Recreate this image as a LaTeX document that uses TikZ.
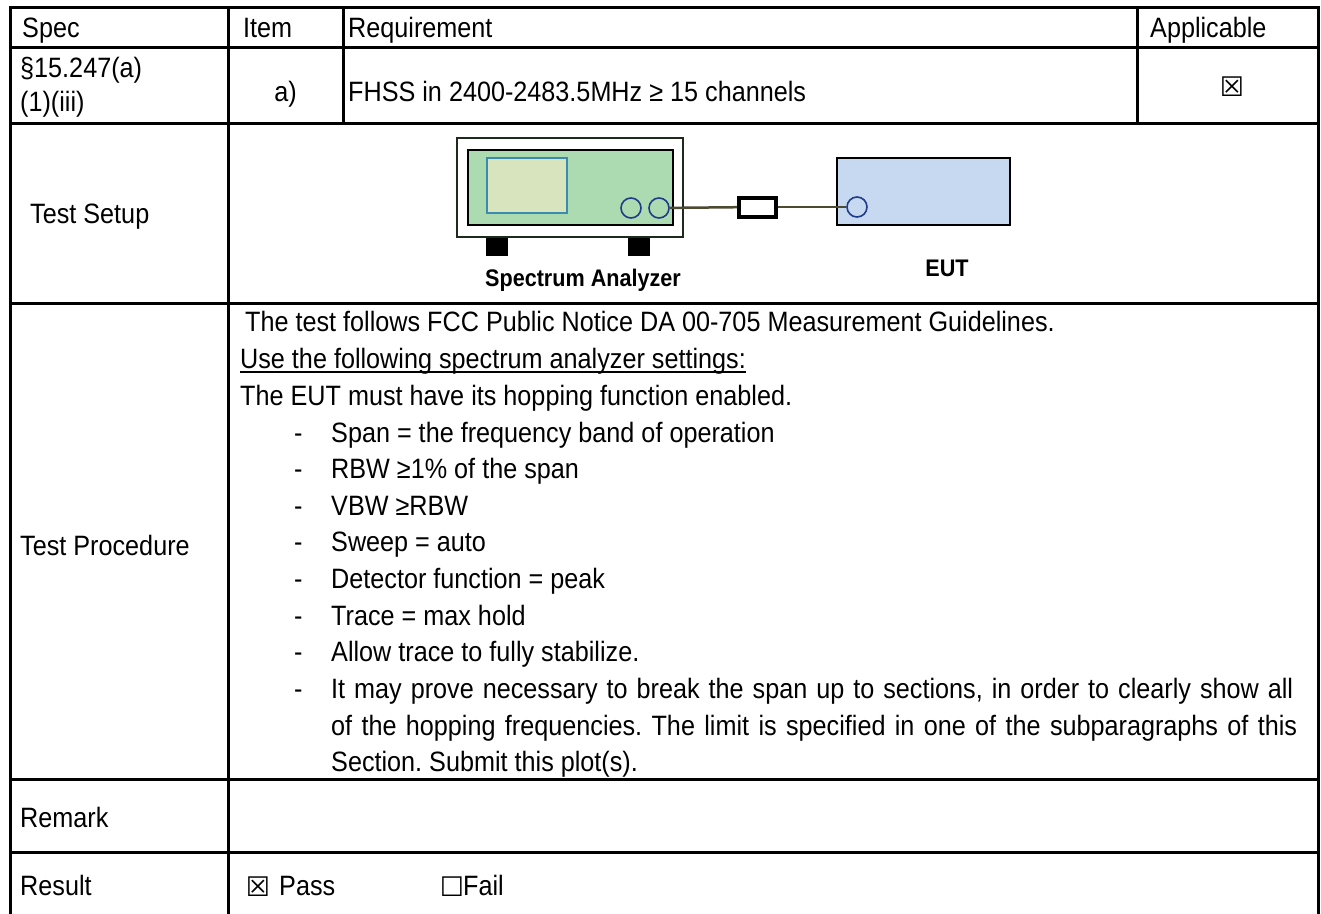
\documentclass[tikz,border=0pt]{standalone}
\usepackage{fontspec}
\setmainfont[FakeStretch=0.9]{Liberation Sans}
\newfontfamily\symfont{DejaVu Sans}
\usetikzlibrary{shapes}
\frenchspacing

\definecolor{panelgreen}{HTML}{ADDBB1}
\definecolor{screenyellow}{HTML}{D7E4BD}
\definecolor{screenedge}{HTML}{3B8AB0}
\definecolor{portblue}{HTML}{1F3C88}
\definecolor{cablebrown}{HTML}{4D4A32}
\definecolor{eutblue}{HTML}{C6D9F0}
\definecolor{sadark}{HTML}{1E2A1E}

\tikzset{
  tableline/.style={line width=3pt, line cap=rect},
  lbl/.style={anchor=base west, inner sep=0pt, font=\fontsize{28}{34}\selectfont},
  chk/.style={inner sep=0pt, font=\symfont\fontsize{27}{30}\selectfont},
  port/.style={circle, draw=portblue, line width=1.6pt, minimum size=20pt, inner sep=0pt},
  cable/.style={draw=cablebrown, line width=2.5pt},
  foot/.style={fill=black, minimum width=22pt, minimum height=19pt, inner sep=0pt},
  tag/.style={inner sep=0pt, font=\fontsize{24}{28}\selectfont\bfseries}
}

\begin{document}
\begin{tikzpicture}[x=1pt,y=-1pt]
\useasboundingbox (0,0) rectangle (1321,913);
\clip (0,0) rectangle (1321,913);

% table rules
\draw[tableline] (10,7) -- (1318,7);
\draw[tableline] (10,47) -- (1318,47);
\draw[tableline] (10,123) -- (1318,123);
\draw[tableline] (10,303) -- (1318,303);
\draw[tableline] (10,779) -- (1318,779);
\draw[tableline] (10,852) -- (1318,852);
\draw[tableline] (10,7) -- (10,920);
\draw[tableline] (228,7) -- (228,920);
\draw[tableline] (343,7) -- (343,123);
\draw[tableline] (1137,7) -- (1137,123);
\draw[tableline] (1318,7) -- (1318,920);

% header and first row
\node[lbl] (spec) at (22,37) {Spec};
\node[lbl] (item) at (243,37) {Item};
\node[lbl] (req)  at (348,37) {Requirement};
\node[lbl] (appl) at (1150,37) {Applicable};
\node[lbl] (sect) at (20,77) {§15.247(a)};
\node[lbl] (sub)  at (20,111) {(1)(iii)};
\node[lbl, anchor=base] (itema) at (285.5,101) {a)};
\node[lbl] (fhss) at (348,101) {FHSS in 2400-2483.5MHz ≥ 15 channels};
\node[chk] (applbox) at (1232,87) {☒};

% test setup
\node[lbl] (setup) at (30,223) {Test Setup};
\node[foot] (footl) at (497,246.5) {};
\node[foot] (footr) at (639,246.5) {};
\node[draw=sadark, line width=2pt, fill=white, minimum width=226pt, minimum height=99pt] (sa) at (570,187.5) {};
\node[draw, line width=2.5pt, fill=panelgreen, minimum width=205pt, minimum height=75pt] (panel) at (570.5,187.5) {};
\node[draw=screenedge, line width=1.5pt, fill=screenyellow, minimum width=80pt, minimum height=55pt] (screen) at (527,185.5) {};
\node[port] (sain)  at (631,208) {};
\node[port] (saout) at (659,208) {};
\node[draw, line width=4pt, fill=white, minimum width=37pt, minimum height=19pt, inner sep=0pt] (att) at (757.5,207) {};
\node[draw, line width=2pt, fill=eutblue, minimum width=173pt, minimum height=67pt] (eut) at (923.5,191.5) {};
\node[port] (eutport) at (857,207) {};
\draw[cable] (saout) -- (att);
\draw[cable] (att) -- (eutport);
\node[tag] (salbl)  at (583,280) {Spectrum Analyzer};
\node[tag] (eutlbl) at (947,268) {EUT};

% test procedure
\node[lbl] (proc) at (20,555) {Test Procedure};
\node[lbl] (p1) at (245,331) {The test follows FCC Public Notice DA 00-705 Measurement Guidelines.};
\node[lbl] (p2) at (240,368) {Use the following spectrum analyzer settings:};
\draw[line width=2pt] ([yshift=-4pt]p2.base west) -- ([yshift=-4pt]p2.base east);
\node[lbl] (p3) at (240,405) {The EUT must have its hopping function enabled.};
\foreach \txt [count=\i] in {Span = the frequency band of operation, RBW ≥1\% of the span, VBW ≥RBW, Sweep = auto, Detector function = peak, Trace = max hold, Allow trace to fully stabilize.} {
  \node[lbl] (d\i) at (294,{442+36.6*(\i-1)}) {-};
  \node[lbl] (s\i) at (331,{442+36.6*(\i-1)}) {\txt};
}
\node[lbl] (d8) at (294,698) {-};
\node[lbl] (s8) at (331,698) {\makebox[962pt][s]{It may prove necessary to break the span up to sections, in order to clearly show all}};
\node[lbl] (s9)  at (331,735) {\makebox[966pt][s]{of the hopping frequencies. The limit is specified in one of the subparagraphs of this}};
\node[lbl] (s10) at (331,771) {Section. Submit this plot(s).};

% remark and result
\node[lbl] (remark) at (20,827) {Remark};
\node[lbl] (result) at (20,895) {Result};
\node[chk] (passbox) at (258,887) {☒};
\node[lbl] (pass) at (279,895) {Pass};
\node[chk] (failbox) at (452,887) {☐};
\node[lbl] (fail) at (463,895) {Fail};
\end{tikzpicture}
\end{document}
